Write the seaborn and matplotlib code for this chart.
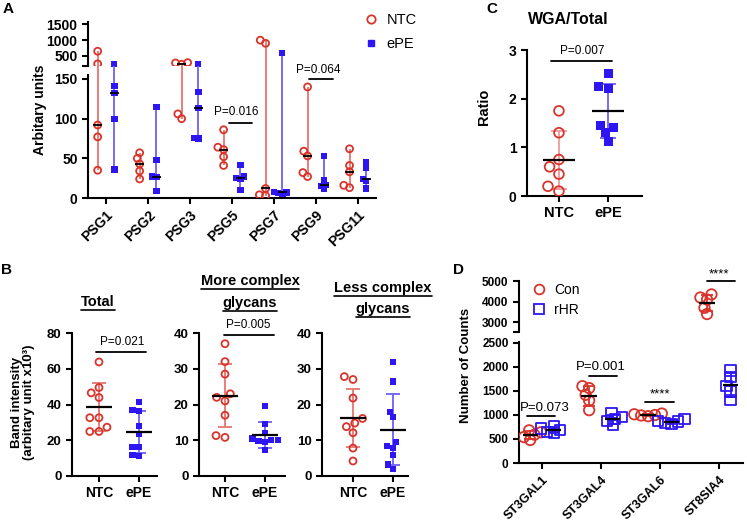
import numpy as np
import pandas as pd
import matplotlib.pyplot as plt
from matplotlib.lines import Line2D
import seaborn as sns
import warnings

warnings.filterwarnings("ignore")

# ===== STYLE =====
sns.set_style("ticks")
plt.rcParams['font.family'] = ['Liberation Sans', 'DejaVu Sans']
plt.rcParams['font.weight'] = 'bold'
plt.rcParams['axes.linewidth'] = 1.5
plt.rcParams['axes.edgecolor'] = 'black'
plt.rcParams['xtick.color'] = 'black'
plt.rcParams['ytick.color'] = 'black'
plt.rcParams['text.color'] = 'black'

RED = '#D9342B'
BLUE = '#2D16F2'
RED_BAR = '#E77570'
BLUE_BAR = '#7060F5'

# ===== DATA =====
# A: PSG expression (median + range)
psg_genes = ["PSG1", "PSG2", "PSG3", "PSG5", "PSG7", "PSG9", "PSG11"]
psg_ntc = [[650, 250, 92, 77, 35], [57, 50, 43, 34, 24], [290, 280, 240, 106, 100],
           [86, 64, 61, 52, 41], [1000, 900, 12, 4, 3], [140, 59, 53, 32, 27],
           [62, 41, 33, 16, 13]]
psg_epe = [[250, 141, 132, 100, 36], [115, 48, 27, 26, 9], [250, 134, 113, 76, 75],
           [42, 27, 25, 24, 10], [580, 8, 7, 6, 5], [53, 22, 16, 15, 11],
           [45, 38, 24, 21, 12]]

# B: band intensity (mean + SD)
groups = ["NTC", "ePE"]
total_ntc = [63.8, 49.5, 46.5, 43.9, 32.6, 32.6, 27.3, 24.9, 24.9]
total_epe = [41.4, 37.1, 36.3, 27.9, 23.5, 16.4, 16.4, 11.7, 11.3]
more_ntc = [37, 32, 28.5, 23, 22, 21, 17, 11.3, 10.8]
more_epe = [19.5, 14.5, 12, 10.5, 10, 10, 9.8, 9.5, 7.2]
less_ntc = [27.8, 27, 21.8, 16.1, 14.8, 13.8, 12.1, 7.8, 4.2]
less_epe = [31.9, 26.4, 18, 16.4, 9.5, 8.4, 7.9, 5.8, 3.2, 2.0]

# C: WGA/Total ratio
wga_ntc = [1.75, 1.3, 0.75, 0.6, 0.45, 0.2, 0.1]
wga_epe = [2.52, 2.25, 2.2, 1.45, 1.4, 1.3, 1.12]

# D: sialyltransferase counts
st_genes = ["ST3GAL1", "ST3GAL4", "ST3GAL6", "ST8SIA4"]
st_con = [[680, 640, 590, 540, 480], [1600, 1560, 1420, 1300, 1100],
          [1030, 1015, 1000, 990, 975], [4350, 4200, 4100, 3700, 3400]]
st_rhr = [[760, 720, 690, 650, 620], [1040, 960, 920, 870, 790],
          [920, 880, 860, 830, 810], [1930, 1790, 1600, 1490, 1310]]

# ===== FIGURE =====
W, H = 747, 522
fig = plt.figure(figsize=(W / 100, H / 100), dpi=100)
frozen = []  # (collection, final marker size) -> swarm laid out tight, drawn bigger


def add_ax(l, t, r, b):
    return fig.add_axes([l / W, 1 - b / H, (r - l) / W, (b - t) / H])


def ftext(x, y, s, **kw):
    return fig.text(x / W, 1 - y / H, s, **kw)


def long_df(cats, a, b, labels):
    rows = []
    for c, va, vb in zip(cats, a, b):
        rows += [(c, labels[0], v) for v in va]
        rows += [(c, labels[1], v) for v in vb]
    return pd.DataFrame(rows, columns=["cat", "group", "value"])


def swarm(ax, df, x, order, hue_order, styles, dodge, lo=-np.inf, hi=np.inf):
    df = df[(df["value"] >= lo) & (df["value"] <= hi)]
    for grp in hue_order:
        marker, color, hollow, size, layout = styles[grp]
        sub = df[df["group"] == grp]
        if sub.empty:
            continue
        n0 = len(ax.collections)
        sns.swarmplot(data=sub, x=x, y="value", hue="group",
                      order=order, hue_order=hue_order, dodge=dodge,
                      palette={g: styles[g][1] for g in hue_order},
                      marker=marker, size=layout, legend=False, ax=ax, zorder=3)
        for coll in ax.collections[n0:]:
            if hollow:
                coll.set_facecolor('none')
                coll.set_edgecolor(color)
                coll.set_linewidth(1.3)
            else:
                coll.set_edgecolor(color)
                coll.set_linewidth(0)
            frozen.append((coll, size))


def median_range(ax, x, vals, color, top=None):
    hi = max(vals)
    clip = True
    if top is not None and hi > top:
        # carry the range line up through the axis break
        hi, clip = top, False
    ax.vlines(x, min(vals), hi, color=color, lw=1.3, zorder=2, clip_on=clip)
    ax.hlines(np.median(vals), x - 0.1, x + 0.1, color='black', lw=1.3, zorder=4)


def mean_sd(ax, x, vals, color, half, cap):
    m, s = np.mean(vals), np.std(vals, ddof=1)
    ax.errorbar(x, m, yerr=s, color=color, capsize=cap, capthick=1.3, lw=1.3, zorder=2)
    ax.hlines(m, x - half, x + half, color='black', lw=1.6, zorder=4)


def clean(ax, size, bottom=True):
    sns.despine(ax=ax)
    ax.set_xlabel('')
    ax.set_ylabel('')
    ax.tick_params(labelsize=size, width=1.5, length=4)
    if not bottom:
        ax.spines['bottom'].set_visible(False)
        ax.tick_params(axis='x', bottom=False, labelbottom=False)


def sig(ax, x0, x1, y, tx, ty, label, size):
    ax.plot([x0, x1], [y, y], color='black', lw=1.3, clip_on=False)
    ax.text(tx, ty, label, ha='center', va='center', fontsize=size,
            fontweight='normal', clip_on=False)


# ----- A -----
a_styles = {"NTC": ('o', RED, True, 5, 3), "ePE": ('s', BLUE, False, 4.5, 3)}
df_a = long_df(psg_genes, psg_ntc, psg_epe, groups)
a_top_box, a_bot_box = (88, 22, 376, 66), (88, 75, 376, 198)
ax_at = add_ax(*a_top_box)
ax_ab = add_ax(*a_bot_box)
a_top_lim, a_bot_lim = (184, 1573), (0, 155)
# value (in bottom-axis units) reached at the bottom edge of the top axis
gap_val = a_bot_lim[1] * (a_bot_box[3] - a_top_box[3]) / (a_bot_box[3] - a_bot_box[1])
swarm(ax_at, df_a, "cat", psg_genes, groups, a_styles, True, lo=a_top_lim[0])
swarm(ax_ab, df_a, "cat", psg_genes, groups, a_styles, True, hi=a_bot_lim[1])
for i, (n, e) in enumerate(zip(psg_ntc, psg_epe)):
    median_range(ax_at, i - 0.2, n, RED_BAR)
    median_range(ax_at, i + 0.2, e, BLUE_BAR)
    median_range(ax_ab, i - 0.2, n, RED_BAR, top=gap_val)
    median_range(ax_ab, i + 0.2, e, BLUE_BAR, top=gap_val)
for ax in (ax_at, ax_ab):
    ax.set_xlim(-0.43, 6.43)
ax_at.set_ylim(*a_top_lim)
ax_ab.set_ylim(*a_bot_lim)
clean(ax_at, 10, bottom=False)
clean(ax_ab, 10)
ax_at.set_yticks([184, 500, 1000, 1500], ['', '500', '1000', '1500'])
ax_ab.set_yticks([0, 50, 100, 150])
ax_ab.set_xticks(range(len(psg_genes)))
ax_ab.set_xticklabels(psg_genes, rotation=45, ha='right', rotation_mode='anchor')
sig(ax_ab, 2.93, 3.48, 94, 3.1, 108, "P=0.016", 8.5)
sig(ax_ab, 4.83, 5.4, 150, 5.05, 161, "P=0.064", 8.5)
ftext(40, 110, "Arbitary units", rotation=90, ha='center', va='center', fontsize=10)
fig.legend(handles=[Line2D([], [], ls='', marker='o', mfc='none', mec=RED, mew=1.3, ms=6),
                    Line2D([], [], ls='', marker='s', mfc=BLUE, mec=BLUE, ms=5)],
           labels=["NTC", "ePE"], loc='upper left', bbox_to_anchor=(356 / W, 1 - 6 / H),
           frameon=False, handlelength=1, handletextpad=0.6, labelspacing=0.65,
           borderpad=0, prop={'size': 10.5, 'weight': 'normal'})

# ----- B -----
b_styles = {"NTC": ('o', RED, True, 5, 5), "ePE": ('s', BLUE, False, 4.5, 4.5)}
b_panels = [((72, 333, 157, 476), total_ntc, total_epe, (-0.675, 1.45)),
            ((199, 333, 285, 476), more_ntc, more_epe, (-0.65, 1.5)),
            ((322, 333, 408, 476), less_ntc, less_epe, (-0.775, 1.375))]
b_ylims = [(0, 80), (0, 40), (0, 40)]
b_axes = []
for (box, n, e, xl), yl in zip(b_panels, b_ylims):
    ax = add_ax(*box)
    df_b = pd.concat([long_df(["NTC"], [n], [[]], groups),
                      long_df(["ePE"], [[]], [e], groups)])
    swarm(ax, df_b, "cat", groups, groups, b_styles, False)
    mean_sd(ax, 0, n, RED_BAR, 0.33, 5)
    mean_sd(ax, 1, e, BLUE_BAR, 0.33, 5)
    ax.set_xlim(*xl)
    ax.set_ylim(*yl)
    ax.set_yticks(np.linspace(yl[0], yl[1], 5))
    clean(ax, 9.5)
    ax.set_xticks([0, 1], groups, fontsize=10)
    b_axes.append(ax)
sig(b_axes[0], -0.08, 1.18, 69.5, 0.58, 75, "P=0.021", 8.5)
sig(b_axes[1], -0.03, 1.23, 39.4, 0.57, 42.2, "P=0.005", 8.5)
ftext(23, 402, "Band intensity\n(arbitary unit x10³)", rotation=90, ha='center',
      va='center', fontsize=9.5, linespacing=1.1)
b_titles = [ftext(98, 302, "Total", ha='center', va='center', fontsize=10.5),
            ftext(250, 281, "More complex", ha='center', va='center', fontsize=10.5),
            ftext(250, 303, "glycans", ha='center', va='center', fontsize=10.5),
            ftext(383, 288, "Less complex", ha='center', va='center', fontsize=10.5),
            ftext(383, 309, "glycans", ha='center', va='center', fontsize=10.5)]

# ----- C -----
c_styles = {"NTC": ('o', RED, True, 7, 7), "ePE": ('s', BLUE, False, 6.5, 6.5)}
ax_c = add_ax(527, 50, 642, 196)
df_c = pd.concat([long_df(["NTC"], [wga_ntc], [[]], groups),
                  long_df(["ePE"], [[]], [wga_epe], groups)])
swarm(ax_c, df_c, "cat", groups, groups, c_styles, False)
mean_sd(ax_c, 0, wga_ntc, '#F09A9A', 0.33, 6)
mean_sd(ax_c, 1, wga_epe, BLUE_BAR, 0.33, 6)
ax_c.set_xlim(-0.65, 1.69)
ax_c.set_ylim(0, 3)
ax_c.set_yticks([0, 1, 2, 3])
clean(ax_c, 10)
ax_c.set_xticks([0, 1], groups, fontsize=10.5)
sig(ax_c, -0.16, 1.08, 2.77, 0.47, 2.98, "P=0.007", 8.5)
ftext(568, 20, "WGA/Total", ha='center', va='center', fontsize=11.5)
ftext(484, 107, "Ratio", rotation=90, ha='center', va='center', fontsize=10.5)

# ----- D -----
d_styles = {"Con": ('o', RED, True, 7.5, 3.5), "rHR": ('s', BLUE, True, 7.5, 3.5)}
d_groups = ["Con", "rHR"]
df_d = long_df(st_genes, st_con, st_rhr, d_groups)
ax_dt = add_ax(519, 281, 743, 332)
ax_db = add_ax(519, 342, 743, 463)
d_top_lim, d_bot_lim = (2530, 5000), (0, 2520)
swarm(ax_dt, df_d, "cat", st_genes, d_groups, d_styles, True, lo=d_top_lim[0])
swarm(ax_db, df_d, "cat", st_genes, d_groups, d_styles, True, hi=d_bot_lim[1])
for ax in (ax_dt, ax_db):
    for i, (c, r) in enumerate(zip(st_con, st_rhr)):
        mean_sd(ax, i - 0.2, c, RED, 0.13, 4)
        mean_sd(ax, i + 0.2, r, BLUE, 0.13, 4)
    ax.set_xlim(-0.39, 3.41)
ax_dt.set_ylim(*d_top_lim)
ax_db.set_ylim(*d_bot_lim)
clean(ax_dt, 8.5, bottom=False)
clean(ax_db, 8.5)
ax_dt.set_yticks([2530, 3000, 4000, 5000], ['', '3000', '4000', '5000'])
ax_db.set_yticks(range(0, 2501, 500))
ax_db.set_xticks(range(len(st_genes)))
ax_db.set_xticklabels(st_genes, rotation=45, ha='right', rotation_mode='anchor', fontsize=9)
sig(ax_db, -0.25, 0.22, 980, 0.05, 1152, "P=0.073", 9.5)
sig(ax_db, 0.8, 1.27, 1819, 1.0, 2000, "P=0.001", 9.5)
sig(ax_db, 1.75, 2.24, 1277, 2.0, 1437, "****", 9.5)
sig(ax_dt, 2.8, 3.27, 4980, 3.0, 5330, "****", 9.5)
ftext(466, 365, "Number of Counts", rotation=90, ha='center', va='center', fontsize=9.5)
fig.legend(handles=[Line2D([], [], ls='', marker='o', mfc='none', mec=RED, mew=1.3, ms=7),
                    Line2D([], [], ls='', marker='s', mfc='none', mec=BLUE, mew=1.3, ms=7)],
           labels=d_groups, loc='upper left', bbox_to_anchor=(525 / W, 1 - 276 / H),
           frameon=False, handlelength=1, handletextpad=0.6, labelspacing=0.45,
           borderpad=0, prop={'size': 10, 'weight': 'normal'})

# ----- panel letters -----
for letter, x, y in [("A", 8, 9), ("B", 7, 270), ("C", 492, 9), ("D", 458, 270)]:
    ftext(x, y, letter, ha='center', va='center', fontsize=11)

# ----- lay out swarms, then freeze them and draw markers at full size -----
fig.canvas.draw()
for coll, size in frozen:
    if 'draw' in coll.__dict__:
        del coll.draw
    coll.set_sizes([size ** 2])

# ----- underline B titles -----
for t in b_titles:
    bb = t.get_window_extent()
    fig.add_artist(Line2D([bb.x0 / W, bb.x1 / W], [(bb.y0 - 1) / H, (bb.y0 - 1) / H],
                          transform=fig.transFigure, color='black', lw=1.2))

fig.savefig("out.png", dpi=100)
